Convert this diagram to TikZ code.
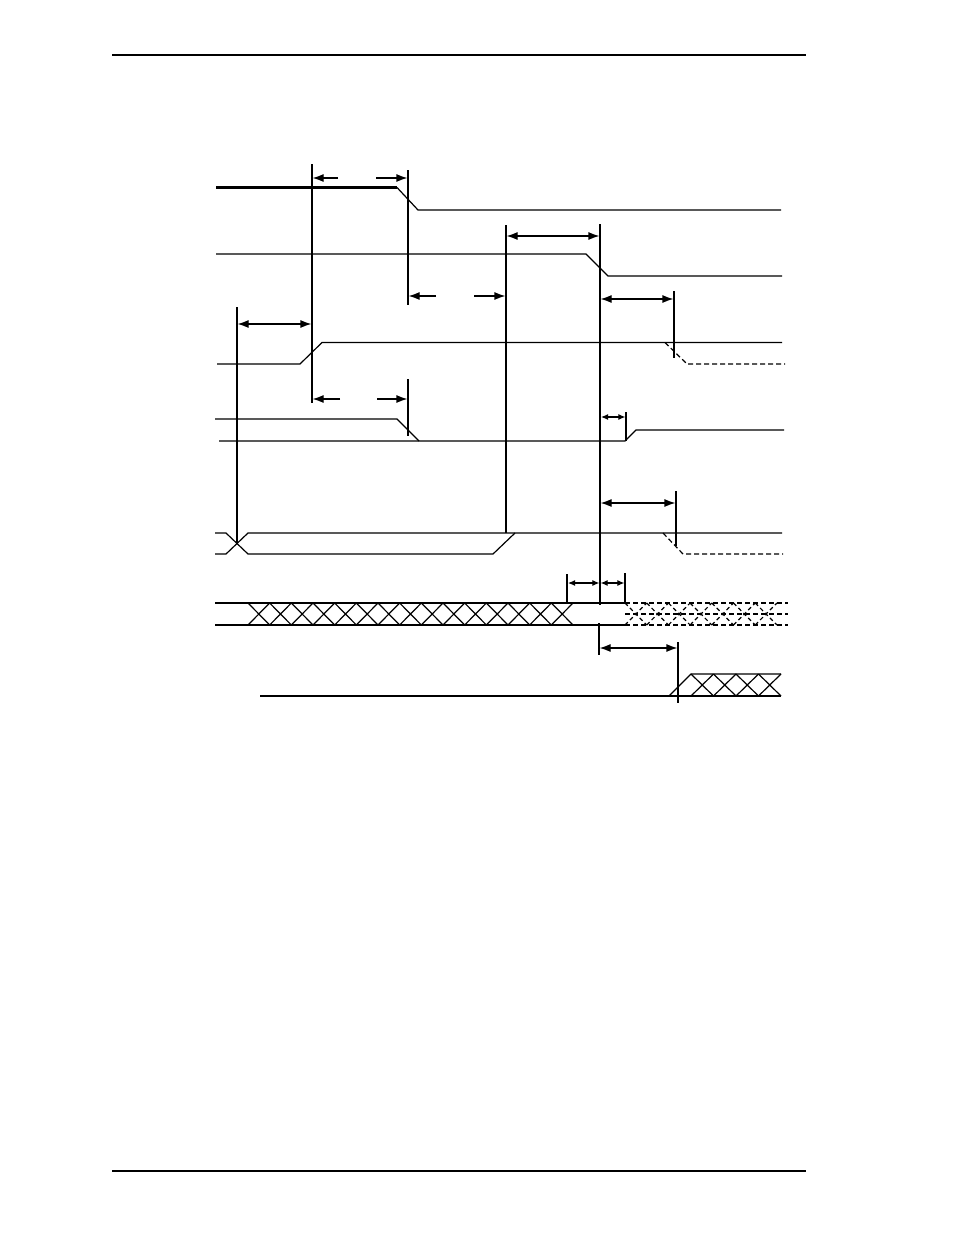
\documentclass[tikz,border=0pt]{standalone}
\usetikzlibrary{arrows.meta}
\begin{document}
\begin{tikzpicture}[x=1pt,y=-1pt,line join=miter,
  sig/.style={line width=1.2pt},
  thicksig/.style={line width=2.4pt},
  guide/.style={line width=1.2pt},
  dimarrow/.style={line width=1.2pt,-{Latex[length=11pt,width=8pt]}},
  ddimarrow/.style={line width=1.2pt,{Latex[length=11pt,width=8pt]}-{Latex[length=11pt,width=8pt]}},
  sdimarrow/.style={line width=1.1pt,{Latex[length=7pt,width=6pt]}-{Latex[length=7pt,width=6pt]}},
  dsh/.style={sig,dash pattern=on 5pt off 3pt},
  pageline/.style={line width=1.8pt}]
\useasboundingbox (0,0) rectangle (954,1235);

% page rules
\draw[pageline] (112,55) -- (806,55);
\draw[pageline] (112,1171) -- (806,1171);

% signal 1
\draw[thicksig] (216,187.5) -- (397,187.5);
\draw[sig] (397,187.5) -- (418,210) -- (781,210);

% signal 2
\draw[sig] (216,254) -- (586,254) -- (608,276) -- (782,276);

% signal 3
\draw[sig] (217,364) -- (300,364) -- (322,342.5) -- (782,342.5);
\draw[dsh] (665,342.5) -- (687,364) -- (785,364);

% signal 4
\draw[sig] (215,419) -- (397,419) -- (419,441);
\draw[sig] (219,441) -- (625,441) -- (636,430) -- (784,430);

% signal 5
\draw[sig] (215,533) -- (226,533) -- (248,554) -- (493,554) -- (515,533);
\draw[sig] (215,554) -- (226,554) -- (248,533) -- (782,533);
\draw[dsh] (663,533) -- (683,554) -- (783,554);

% signal 6 (bus)
\draw[sig] (215,603) -- (625,603);
\draw[sig] (215,625) -- (625,625);
\foreach \i in {0,...,14}{
  \pgfmathsetmacro\xa{248+\i*21.667}
  \pgfmathsetmacro\xb{248+(\i+1)*21.667}
  \draw[sig] (\xa,603) -- (\xb,625) (\xa,625) -- (\xb,603);
}
\draw[dsh] (625,603) -- (788,603);
\draw[dsh] (625,614) -- (788,614);
\draw[dsh] (625,625) -- (788,625);
\foreach \i in {0,...,6}{
  \pgfmathsetmacro\xa{625+\i*21.7}
  \pgfmathsetmacro\xb{625+(\i+1)*21.7}
  \draw[dsh,dash pattern=on 4pt off 3pt] (\xa,603) -- (\xb,625) (\xa,625) -- (\xb,603);
}

% signal 7
\draw[sig] (260,696) -- (781,696);
\draw[sig] (669,696) -- (691,674) -- (781,674);
\foreach \i in {0,...,3}{
  \pgfmathsetmacro\xa{691+\i*22.5}
  \pgfmathsetmacro\xb{691+(\i+1)*22.5}
  \draw[sig] (\xa,674) -- (\xb,696) (\xa,696) -- (\xb,674);
}

% vertical reference lines
\draw[guide] (312,164) -- (312,403);
\draw[guide] (408,170) -- (408,305);
\draw[guide] (408,379) -- (408,436);
\draw[guide] (506,225) -- (506,533);
\draw[guide] (600,224) -- (600,605);
\draw[guide] (599,623) -- (599,655);
\draw[guide] (678,642) -- (678,703);
\draw[guide] (674,291) -- (674,358);
\draw[guide] (237,307) -- (237,543);
\draw[guide] (676,491) -- (676,546);
\draw[guide] (626,412) -- (626,441);
\draw[line width=2.2pt] (567,574) -- (567,603);
\draw[guide] (625,573) -- (625,603);

% dimension arrows
\draw[dimarrow] (338,178) -- (312.6,178);
\draw[dimarrow] (376,178) -- (407.4,178);
\draw[dimarrow] (436,296) -- (408.6,296);
\draw[dimarrow] (474,296) -- (505.4,296);
\draw[dimarrow] (340,399) -- (312.6,399);
\draw[dimarrow] (377,399) -- (407.4,399);
\draw[ddimarrow] (506.6,236) -- (599.4,236);
\draw[ddimarrow] (237.6,324) -- (311.4,324);
\draw[ddimarrow] (600.6,299) -- (673.4,299);
\draw[sdimarrow] (601,417) -- (625.4,417);
\draw[ddimarrow] (600.6,503) -- (675.4,503);
\draw[sdimarrow] (568,583) -- (599.4,583);
\draw[sdimarrow] (600.6,583) -- (624.4,583);
\draw[ddimarrow] (599.6,648) -- (677.4,648);
\end{tikzpicture}
\end{document}
